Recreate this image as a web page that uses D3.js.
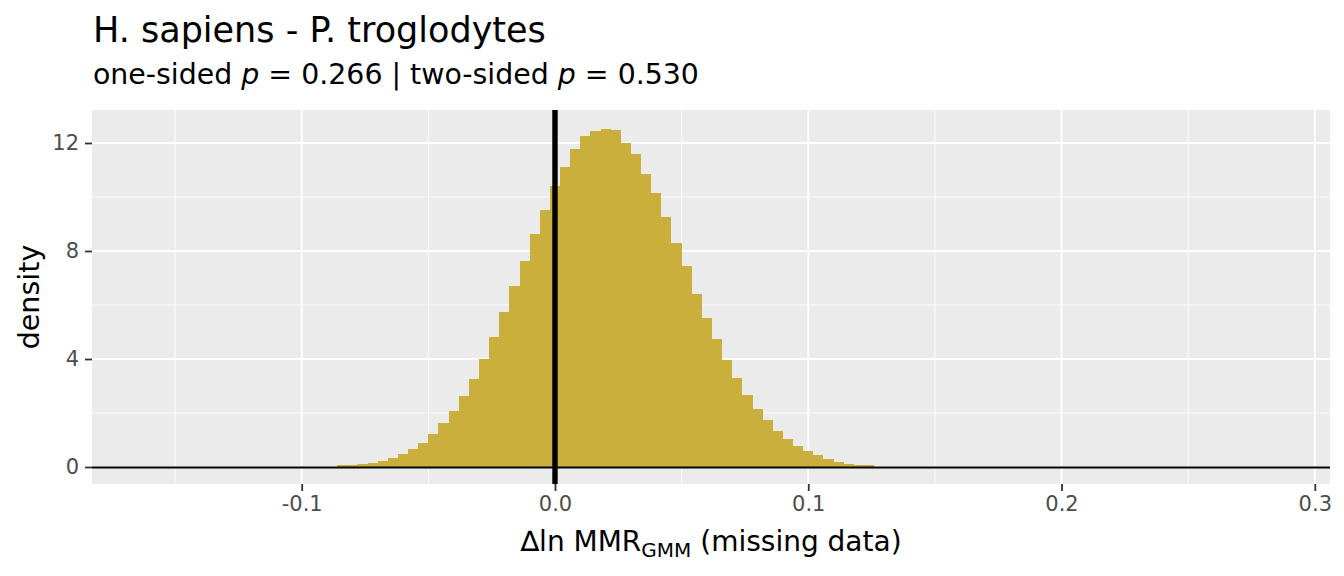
<!DOCTYPE html>
<html>
<head>
<meta charset="utf-8">
<script src="https://cdn.jsdelivr.net/npm/d3@7"></script>
<style>
  html, body { margin: 0; padding: 0; background: #fff; }
  svg { display: block; font-family: "DejaVu Sans", sans-serif; }
</style>
</head>
<body>
<svg id="chart" width="1344" height="576"></svg>
<script>
// ---- data ----
const binCenters = [
  -0.084, -0.080, -0.076, -0.072, -0.068, -0.064, -0.060, -0.056, -0.052, -0.048,
  -0.044, -0.040, -0.036, -0.032, -0.028, -0.024, -0.020, -0.016, -0.012, -0.008,
  -0.004, 0.000, 0.004, 0.008, 0.012, 0.016, 0.020, 0.024, 0.028, 0.032,
  0.036, 0.040, 0.044, 0.048, 0.052, 0.056, 0.060, 0.064, 0.068, 0.072,
  0.076, 0.080, 0.084, 0.088, 0.092, 0.096, 0.100, 0.104, 0.108, 0.112,
  0.116, 0.120, 0.124
];
const densities = [
  0.06, 0.09, 0.12, 0.16, 0.22, 0.33, 0.48, 0.67, 0.89, 1.22,
  1.63, 2.07, 2.63, 3.26, 4.00, 4.81, 5.74, 6.70, 7.63, 8.63,
  9.52, 10.41, 11.11, 11.78, 12.26, 12.44, 12.52, 12.48, 12.00, 11.59,
  10.85, 10.15, 9.26, 8.30, 7.44, 6.41, 5.52, 4.74, 3.96, 3.30,
  2.67, 2.15, 1.74, 1.33, 1.04, 0.78, 0.59, 0.44, 0.30, 0.19,
  0.12, 0.09, 0.06
];
const binWidth = 0.004;
const xTicks = [-0.1, 0.0, 0.1, 0.2, 0.3];
const xTickLabels = ["-0.1", "0.0", "0.1", "0.2", "0.3"];
const xMinor = [-0.15, -0.05, 0.05, 0.15, 0.25];
const yTicks = [0, 4, 8, 12];
const yMinor = [2, 6, 10];
const xDomain = [-0.1828, 0.306];
const yDomain = [-0.63, 13.222];
const observedValue = 0;
const titleText = "H. sapiens - P. troglodytes";

// ---- layout ----
const svg = d3.select("#chart");
const panel = { left: 92, right: 1330, top: 110, bottom: 484 };
const x = d3.scaleLinear().domain(xDomain).range([panel.left, panel.right]);
const y = d3.scaleLinear().domain(yDomain).range([panel.bottom, panel.top]);

svg.append("rect").attr("x", 0).attr("y", 0).attr("width", 1344).attr("height", 576).attr("fill", "#fff");

// panel background
svg.append("rect")
  .attr("x", panel.left).attr("y", panel.top)
  .attr("width", panel.right - panel.left).attr("height", panel.bottom - panel.top)
  .attr("fill", "#EBEBEB");

const grid = svg.append("g");
grid.selectAll(".xminor").data(xMinor).join("line")
  .attr("x1", d => x(d)).attr("x2", d => x(d))
  .attr("y1", panel.top).attr("y2", panel.bottom)
  .attr("stroke", "#fff").attr("stroke-width", 0.9);
grid.selectAll(".yminor").data(yMinor).join("line")
  .attr("y1", d => y(d)).attr("y2", d => y(d))
  .attr("x1", panel.left).attr("x2", panel.right)
  .attr("stroke", "#fff").attr("stroke-width", 0.9);
grid.selectAll(".xmajor").data(xTicks).join("line")
  .attr("x1", d => x(d)).attr("x2", d => x(d))
  .attr("y1", panel.top).attr("y2", panel.bottom)
  .attr("stroke", "#fff").attr("stroke-width", 1.8);
grid.selectAll(".ymajor").data(yTicks).join("line")
  .attr("y1", d => y(d)).attr("y2", d => y(d))
  .attr("x1", panel.left).attr("x2", panel.right)
  .attr("stroke", "#fff").attr("stroke-width", 1.8);

// bars
const bins = binCenters.map((c, i) => ({ c, d: densities[i] }));
svg.append("g").selectAll("rect").data(bins).join("rect")
  .attr("x", b => x(b.c - binWidth / 2))
  .attr("width", b => x(b.c + binWidth / 2) - x(b.c - binWidth / 2))
  .attr("y", b => y(b.d))
  .attr("height", b => y(0) - y(b.d))
  .attr("fill", "#CBAF3D")
  .attr("shape-rendering", "crispEdges");

// reference lines
svg.append("line")
  .attr("x1", panel.left).attr("x2", panel.right)
  .attr("y1", y(0) + 0.5).attr("y2", y(0) + 0.5)
  .attr("stroke", "#000").attr("stroke-width", 2.2);
svg.append("line")
  .attr("x1", x(observedValue)).attr("x2", x(observedValue))
  .attr("y1", panel.top).attr("y2", panel.bottom)
  .attr("stroke", "#000").attr("stroke-width", 5.4);

// axes
const xAxis = d3.axisBottom(x).tickValues(xTicks)
  .tickFormat((d, i) => xTickLabels[i]).tickSize(7).tickPadding(5);
const gx = svg.append("g").attr("transform", `translate(0,${panel.bottom})`).call(xAxis);
gx.select(".domain").remove();
gx.selectAll(".tick line").attr("stroke", "#333").attr("stroke-width", 1.8);
gx.selectAll(".tick text").attr("fill", "#4D4D4D").style("font-size", "21px")
  .style("font-family", "DejaVu Sans");

const yAxis = d3.axisLeft(y).tickValues(yTicks).tickSize(7).tickPadding(6);
const gy = svg.append("g").attr("transform", `translate(${panel.left},0)`).call(yAxis);
gy.select(".domain").remove();
gy.selectAll(".tick line").attr("stroke", "#333").attr("stroke-width", 1.8);
gy.selectAll(".tick text").attr("fill", "#4D4D4D").style("font-size", "21px")
  .style("font-family", "DejaVu Sans");

// titles
svg.append("text").attr("x", 93).attr("y", 42)
  .style("font-size", "35px").attr("fill", "#000").text(titleText);

const sub = svg.append("text").attr("x", 93).attr("y", 84)
  .style("font-size", "28.4px").attr("fill", "#000");
sub.append("tspan").text("one-sided ");
sub.append("tspan").style("font-style", "italic").text("p");
sub.append("tspan").text(" = 0.266 | two-sided ");
sub.append("tspan").style("font-style", "italic").text("p");
sub.append("tspan").text(" = 0.530");

svg.append("text")
  .attr("transform", `translate(39,${(panel.top + panel.bottom) / 2}) rotate(-90)`)
  .attr("text-anchor", "middle").style("font-size", "28.5px").attr("fill", "#000")
  .text("density");

const xt = svg.append("text")
  .attr("x", (panel.left + panel.right) / 2).attr("y", 551)
  .attr("text-anchor", "middle").style("font-size", "28px").attr("fill", "#000");
xt.append("tspan").text("\u2206ln MMR");
xt.append("tspan").attr("dy", 6).style("font-size", "20px").text("GMM");
xt.append("tspan").attr("dy", -6).text(" (missing data)");
</script>
</body>
</html>
